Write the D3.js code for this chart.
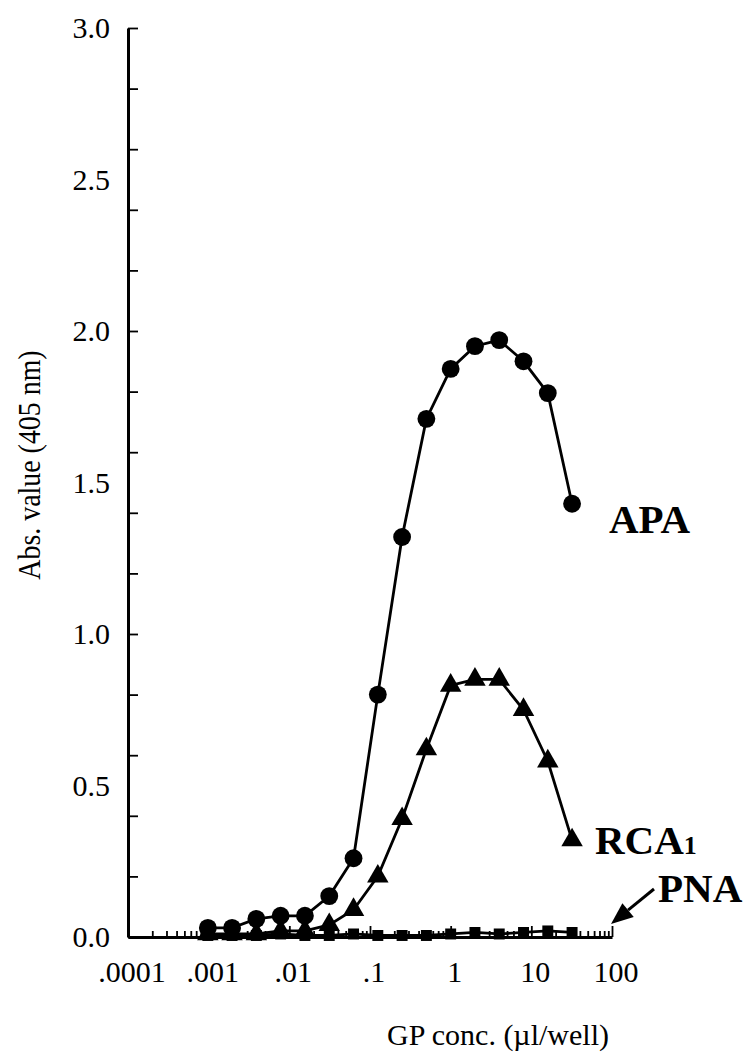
<!DOCTYPE html>
<html>
<head>
<meta charset="utf-8">
<script src="https://cdn.jsdelivr.net/npm/d3@7"></script>
<style>
body { margin: 0; background: #fff; }
svg { display: block; }
</style>
</head>
<body>
<svg id="plot"></svg>
<script>
(function() {
"use strict";

// GP concentration (ul/well), 2-fold serial dilution
var DOSES = [0.000977, 0.00195, 0.0039, 0.0078, 0.0156, 0.03125, 0.0625, 0.125,
             0.25, 0.5, 1, 2, 4, 8, 16, 32];
var APA = [0.03, 0.03, 0.06, 0.07, 0.07, 0.135, 0.26, 0.80,
           1.32, 1.71, 1.875, 1.95, 1.97, 1.90, 1.795, 1.43];
var RCA = [0.01, 0.01, 0.01, 0.02, 0.02, 0.04, 0.09, 0.20,
           0.39, 0.62, 0.83, 0.85, 0.85, 0.75, 0.58, 0.32];
var PNA = [0.005, 0.005, 0.005, 0.01, 0.005, 0.005, 0.01, 0.005,
           0.005, 0.005, 0.01, 0.015, 0.01, 0.015, 0.02, 0.015];

var XTICKS = [0.0001, 0.001, 0.01, 0.1, 1, 10, 100];
var XLABELS = [".0001", ".001", ".01", ".1", "1", "10", "100"];
var YTICKS = [0, 0.5, 1, 1.5, 2, 2.5, 3];
var YLABELS = ["0.0", "0.5", "1.0", "1.5", "2.0", "2.5", "3.0"];

var W = 745, H = 1058;
var FONT = "'Liberation Serif', 'DejaVu Serif', serif";

var svg = d3.select("#plot").attr("width", W).attr("height", H);

var x = d3.scaleLog().domain([0.0001, 100]).range([128, 612]);
var y = d3.scaleLinear().domain([0, 3]).range([937, 28]);

// axes
var minor = [];
for (var e = -4; e < 2; ++e) {
    for (var m = 2; m < 10; ++m) {
        minor.push(m * Math.pow(10, e));
    }
}

var gx = svg.append("g").attr("transform", "translate(0," + y(0) + ")");
gx.call(d3.axisTop(x).tickValues(XTICKS).tickSize(11).tickSizeOuter(0).tickFormat(""));
gx.append("g").call(d3.axisTop(x).tickValues(minor).tickSize(6).tickSizeOuter(0).tickFormat(""))
    .select(".domain").remove();
gx.selectAll("path, line").attr("stroke", "#000").attr("stroke-width", 3);
gx.selectAll(".tick line").attr("stroke-width", 1.8);

svg.selectAll("text.xl")
    .data(XTICKS)
    .enter().append("text")
        .attr("class", "xl")
        .attr("x", function(d) { return x(d) + 4; })
        .attr("y", y(0) + 45)
        .attr("text-anchor", "middle")
        .attr("font-family", FONT)
        .attr("font-size", 30)
        .text(function(d, i) { return XLABELS[i]; });

var gy = svg.append("g").attr("transform", "translate(" + x(0.0001) + ",0)");
gy.call(d3.axisRight(y).ticks(12).tickSize(10).tickSizeOuter(0).tickFormat(""));
gy.selectAll("path, line").attr("stroke", "#000").attr("stroke-width", 3);
gy.selectAll(".tick line").attr("stroke-width", 1.8);

svg.selectAll("text.yl")
    .data(YTICKS)
    .enter().append("text")
        .attr("class", "yl")
        .attr("x", x(0.0001) - 18)
        .attr("y", function(d) { return y(d) + 10; })
        .attr("text-anchor", "end")
        .attr("font-family", FONT)
        .attr("font-size", 30)
        .text(function(d, i) { return YLABELS[i]; });

svg.append("text")
    .attr("transform", "translate(40,465) rotate(-90) scale(0.9,1)")
    .attr("text-anchor", "middle")
    .attr("font-family", FONT)
    .attr("font-size", 31)
    .text("Abs. value (405 nm)");

svg.append("text")
    .attr("x", 498)
    .attr("y", 1045)
    .attr("text-anchor", "middle")
    .attr("font-family", FONT)
    .attr("font-size", 30)
    .text("GP conc. (\u00b5l/well)");

// series
var line = d3.line()
    .x(function(d) { return x(d[0]); })
    .y(function(d) { return y(d[1]); });

var series = function(vals, shape, size) {
    var pts = DOSES.map(function(d, i) { return [d, vals[i]]; });
    svg.append("path")
        .datum(pts)
        .attr("fill", "none")
        .attr("stroke", "#000")
        .attr("stroke-width", 2.8)
        .attr("d", line);
    svg.append("g").selectAll("path")
        .data(pts)
        .enter().append("path")
            .attr("transform", function(d) { return "translate(" + x(d[0]) + "," + y(d[1]) + ")"; })
            .attr("d", d3.symbol().type(shape).size(size))
            .attr("fill", "#000");
};

series(PNA, d3.symbolSquare, 120);
series(RCA, d3.symbolTriangle, 200);
series(APA, d3.symbolCircle, 250);

// labels
var lab = function(tx, ty, t) {
    return svg.append("text")
        .attr("x", tx)
        .attr("y", ty)
        .attr("font-family", FONT)
        .attr("font-weight", "bold")
        .attr("font-size", 41)
        .text(t);
};
lab(609, 533, "APA");
var rca = lab(595, 854, "RCA");
rca.append("tspan").attr("font-size", 26).text("1");
lab(658, 902, "PNA");

// arrow to the PNA curve end
var ax0 = 654, ay0 = 889, ax1 = 611, ay1 = 924;
var ang = Math.atan2(ay1 - ay0, ax1 - ax0);
var hl = 22, hw = 9;
var bx = ax1 - hl * Math.cos(ang), by = ay1 - hl * Math.sin(ang);
svg.append("path")
    .attr("d", "M" + ax0 + "," + ay0 + "L" + bx + "," + by)
    .attr("stroke", "#000")
    .attr("stroke-width", 3)
    .attr("fill", "none");
svg.append("path")
    .attr("d", "M" + ax1 + "," + ay1 +
        "L" + (bx + hw * Math.sin(ang)) + "," + (by - hw * Math.cos(ang)) +
        "L" + (bx - hw * Math.sin(ang)) + "," + (by + hw * Math.cos(ang)) + "Z")
    .attr("fill", "#000");
}());
</script>
</body>
</html>
